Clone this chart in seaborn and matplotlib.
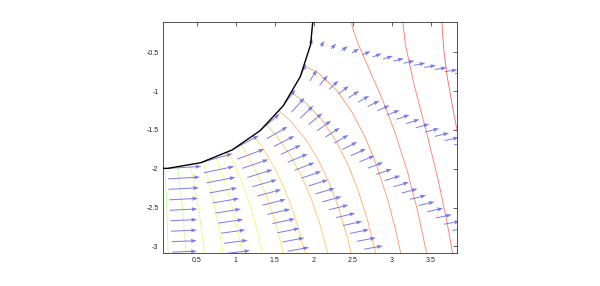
import numpy as np
import pandas as pd
import matplotlib
matplotlib.use("Agg")
import matplotlib.pyplot as plt
import seaborn as sns

# ---------------- data ----------------
# arrow grid: rays (deg) and radii of the arrow tails
ray_angles = [-86.5, -74.0, -61.5, -49.0, -36.5, -24.0, -11.5]
radii = [2.0, 2.135, 2.27, 2.405, 2.54, 2.675, 2.81, 2.945, 3.08, 3.215,
         3.35, 3.485, 3.62, 3.755, 3.89, 4.025, 4.16, 4.295, 4.43, 4.565, 4.70]

# arrow components (data units) along each ray, from the circle outwards
u_vals = [
    [0.438, 0.412, 0.390, 0.371, 0.355, 0.342, 0.331, 0.321, 0.312],
    [0.407, 0.392, 0.372, 0.356, 0.343, 0.330, 0.321, 0.312, 0.305, 0.298],
    [0.340, 0.348, 0.335, 0.324, 0.315, 0.307, 0.301, 0.294, 0.290, 0.285, 0.281, 0.277],
    [0.251, 0.264, 0.261, 0.258, 0.256, 0.254, 0.253, 0.250, 0.249, 0.248, 0.247, 0.246,
     0.245, 0.245, 0.244, 0.244],
    [0.156, 0.164, 0.170, 0.176, 0.180, 0.184, 0.187, 0.190, 0.193, 0.195, 0.197, 0.199,
     0.200, 0.202, 0.203, 0.204, 0.205, 0.206, 0.207, 0.208, 0.208],
    [0.073, 0.091, 0.106, 0.118, 0.129, 0.138, 0.145, 0.152, 0.158, 0.163, 0.168, 0.172,
     0.175, 0.178, 0.181, 0.184, 0.186],
    [0.018, 0.042, 0.063, 0.080, 0.094, 0.107, 0.117, 0.127, 0.135, 0.142, 0.148, 0.153,
     0.158, 0.163, 0.167],
]
v_vals = [
    [0.027, 0.024, 0.021, 0.019, 0.017, 0.015, 0.014, 0.012, 0.011],
    [0.117, 0.082, 0.073, 0.065, 0.058, 0.052, 0.047, 0.043, 0.039, 0.036],
    [0.185, 0.130, 0.114, 0.102, 0.091, 0.082, 0.075, 0.068, 0.062, 0.057, 0.053, 0.049],
    [0.218, 0.153, 0.135, 0.121, 0.108, 0.098, 0.088, 0.080, 0.074, 0.067, 0.062, 0.058,
     0.054, 0.050, 0.046, 0.043],
    [0.210, 0.185, 0.163, 0.146, 0.130, 0.118, 0.107, 0.097, 0.089, 0.081, 0.075, 0.069,
     0.064, 0.060, 0.056, 0.052, 0.049, 0.046, 0.043, 0.040, 0.038],
    [0.164, 0.144, 0.127, 0.113, 0.101, 0.091, 0.083, 0.075, 0.069, 0.063, 0.058, 0.054,
     0.050, 0.046, 0.043, 0.040, 0.038],
    [0.086, 0.075, 0.067, 0.059, 0.053, 0.048, 0.044, 0.040, 0.036, 0.033, 0.031, 0.028,
     0.026, 0.024, 0.023],
]

# contour levels and the traced contour lines (x, y)
levels = [0.19, 0.515, 0.84, 1.165, 1.49, 1.815, 2.14, 2.465, 2.79, 3.115,
          3.44, 3.765, 4.09, 4.415, 4.74]
contour_x = [
    [0.095, 0.116, 0.134, 0.141],
    [0.258, 0.314, 0.364, 0.383],
    [0.420, 0.512, 0.556, 0.593, 0.624],
    [0.583, 0.638, 0.710, 0.771, 0.823, 0.866],
    [0.745, 0.816, 0.909, 0.986, 1.052, 1.107],
    [0.908, 0.994, 1.107, 1.202, 1.282, 1.349],
    [1.070, 1.172, 1.305, 1.417, 1.511, 1.590, 1.676],
    [1.233, 1.350, 1.503, 1.632, 1.741, 1.832, 1.930],
    [1.395, 1.528, 1.701, 1.847, 1.970, 2.073, 2.185],
    [1.558, 1.706, 1.900, 2.062, 2.200, 2.314, 2.439, 2.539],
    [1.720, 1.883, 2.098, 2.278, 2.429, 2.556, 2.694, 2.804],
    [1.883, 2.061, 2.296, 2.493, 2.659, 2.797, 2.948, 3.069, 3.166],
    [2.472, 2.494, 2.570, 2.708, 2.888, 3.039, 3.203, 3.334, 3.439, 3.526],
    [3.142, 3.146, 3.175, 3.280, 3.374, 3.457, 3.599, 3.713, 3.806],
    [3.642, 3.646, 3.668, 3.711, 3.792, 3.864],
]
contour_y = [
    [-1.998, -2.497, -3.097, -3.397],
    [-1.983, -2.480, -3.079, -3.378],
    [-1.955, -2.447, -2.744, -3.043, -3.342],
    [-1.913, -2.105, -2.397, -2.692, -2.989, -3.288],
    [-1.856, -2.043, -2.329, -2.620, -2.916, -3.215],
    [-1.782, -1.963, -2.242, -2.529, -2.823, -3.121],
    [-1.690, -1.862, -2.132, -2.415, -2.707, -3.005, -3.411],
    [-1.575, -1.737, -1.998, -2.275, -2.565, -2.865, -3.273],
    [-1.433, -1.583, -1.832, -2.104, -2.394, -2.695, -3.109],
    [-1.255, -1.390, -1.625, -1.894, -2.184, -2.491, -2.914, -3.345],
    [-1.021, -1.137, -1.360, -1.629, -1.926, -2.242, -2.680, -3.127],
    [-0.675, -0.768, -0.990, -1.275, -1.594, -1.933, -2.398, -2.867, -3.337],
    [0.000, -0.175, -0.395, -0.712, -1.126, -1.525, -2.045, -2.554, -3.054, -3.545],
    [0.000, -0.148, -0.401, -0.894, -1.256, -1.578, -2.165, -2.716, -3.243],
    [0.000, -0.180, -0.485, -0.815, -1.273, -1.646],
]

# cylinder outline: polygon vertices (angle in deg) at radius 2
circle_angles = [-99.0, -86.5, -74.0, -61.5, -49.0, -36.5, -24.0, -11.5, 1.0]
circle_radius = 2.0

xticks = [0.5, 1, 1.5, 2, 2.5, 3, 3.5]
xtick_labels = ["0.5", "1", "1.5", "2", "2.5", "3", "3.5"]
yticks = [-3, -2.5, -2, -1.5, -1, -0.5]
ytick_labels = ["-3", "-2.5", "-2", "-1.5", "-1", "-0.5"]

# ---------------- drawing ----------------
sns.set_style("white")
plt.rcParams["font.family"] = ["Liberation Sans", "DejaVu Sans"]
plt.rcParams["axes.unicode_minus"] = False

fig = plt.figure(figsize=(6.0, 2.86), dpi=100)
ax = fig.add_axes([0.2712, 0.1143, 0.491, 0.8098])

# contour lines coloured by level (jet colour scale)
cmap = plt.get_cmap("jet")
norm = matplotlib.colors.Normalize(vmin=-6.2, vmax=5.8)
for lev, cx, cy in zip(levels, contour_x, contour_y):
    df = pd.DataFrame({"x": cx, "y": cy})
    sns.lineplot(data=df, x="x", y="y", sort=False, estimator=None,
                 color=cmap(norm(lev)), lw=0.65, alpha=0.55, ax=ax)

# arrows
tails_x, tails_y, U, V = [], [], [], []
for ang, us, vs in zip(ray_angles, u_vals, v_vals):
    t = np.deg2rad(ang)
    for r, u, v in zip(radii, us, vs):
        tails_x.append(r * np.cos(t))
        tails_y.append(r * np.sin(t))
        U.append(u)
        V.append(v)
ax.quiver(tails_x, tails_y, U, V, angles="xy", scale_units="xy", scale=1,
          color="#5a5ae2", alpha=0.8, width=0.0033, headwidth=4.2,
          headlength=6.0, headaxislength=5.5, zorder=3)

# cylinder outline
ca = np.deg2rad(circle_angles)
circ = pd.DataFrame({"x": circle_radius * np.cos(ca), "y": circle_radius * np.sin(ca)})
sns.lineplot(data=circ, x="x", y="y", sort=False, estimator=None,
             color="black", lw=1.0, ax=ax, zorder=4)

ax.set_xlim(0.064, 3.84)
ax.set_ylim(-3.09, -0.105)
ax.set_xticks(xticks)
ax.set_xticklabels(xtick_labels)
ax.set_yticks(yticks)
ax.set_yticklabels(ytick_labels)
ax.set_xlabel("")
ax.set_ylabel("")
ax.tick_params(direction="in", length=3, width=0.5, top=True, right=True,
               labelsize=5, pad=3, colors="#222222")
for s in ax.spines.values():
    s.set_visible(True)
    s.set_linewidth(0.6)
    s.set_color("#333333")

fig.savefig("out.png", dpi=100)
